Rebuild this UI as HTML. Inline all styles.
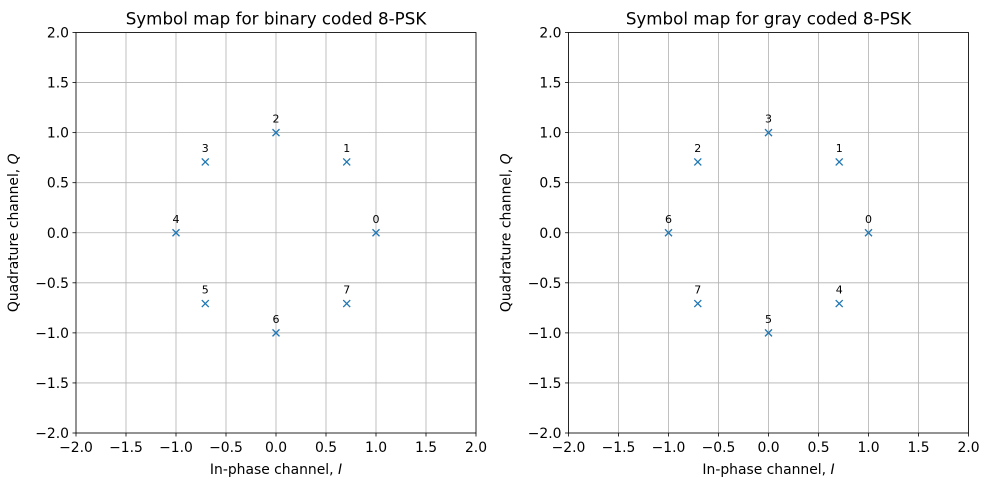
<!DOCTYPE html>
<html><head><meta charset="utf-8"><style>
body{margin:0;background:#fff;}
svg{display:block;font-family:"DejaVu Sans","Liberation Sans",sans-serif;}
</style></head><body>
<svg id="fig" width="989" height="490"></svg>
<script>
const ticks=[-2,-1.5,-1,-0.5,0,0.5,1,1.5,2];
const tickLabels=["−2.0","−1.5","−1.0","−0.5","0.0","0.5","1.0","1.5","2.0"];
const r=Math.SQRT1_2;
const pointsI=[1,r,0,-r,-1,-r,0,r];
const pointsQ=[0,r,1,r,0,-r,-1,-r];
const binaryLabels=["0","1","2","3","4","5","6","7"];
const grayLabels=["0","1","3","2","6","7","5","4"];
const titles=["Symbol map for binary coded 8-PSK","Symbol map for gray coded 8-PSK"];
const NS="http://www.w3.org/2000/svg";
const svg=document.getElementById('fig');
function mk(t,a,p){const e=document.createElementNS(NS,t);for(const k in a)e.setAttribute(k,a[k]);(p||svg).appendChild(e);return e;}
const panels=[{x0:76,labels:binaryLabels,name:'binary'},{x0:568.5,labels:grayLabels,name:'gray'}];
const plotTop=32.5,W=400,H=400.5;
panels.forEach((pn,pi)=>{
  const g=mk('g',{});
  
  
  const sx=v=>pn.x0+(v+2)/4*W, sy=v=>plotTop+(2-v)/4*H;
  ticks.forEach((t,i)=>{
    const gx=mk('line',{x1:sx(t),x2:sx(t),y1:plotTop,y2:plotTop+H,stroke:'#b0b0b0','stroke-width':0.8},g);
    
    
    const gy=mk('line',{x1:pn.x0,x2:pn.x0+W,y1:sy(t),y2:sy(t),stroke:'#b0b0b0','stroke-width':0.8},g);
    
    
    mk('line',{x1:sx(t),x2:sx(t),y1:plotTop+H,y2:plotTop+H+3.5,stroke:'#000','stroke-width':0.8},g);
    mk('line',{x1:pn.x0-3.5,x2:pn.x0,y1:sy(t),y2:sy(t),stroke:'#000','stroke-width':0.8},g);
    const xl=mk('text',{x:sx(t),y:plotTop+H+19,'font-size':13.9,'text-anchor':'middle'},g);xl.textContent=tickLabels[i];
    
    
    const yl=mk('text',{x:pn.x0-7,y:sy(t)+5,'font-size':13.9,'text-anchor':'end'},g);yl.textContent=tickLabels[i];
    
    
  });
  const fr=mk('rect',{x:pn.x0,y:plotTop,width:W,height:H,fill:'none',stroke:'#000','stroke-width':0.8},g);
  
  
  pointsI.forEach((v,i)=>{
    const x=sx(v),y=sy(pointsQ[i]),d=3.5;
    const m=mk('path',{d:`M${x-d},${y-d}L${x+d},${y+d}M${x-d},${y+d}L${x+d},${y-d}`,stroke:'#1f77b4','stroke-width':1.3},g);
    
    
    const tl=mk('text',{x:x,y:y-10,'font-size':11,'text-anchor':'middle'},g);tl.textContent=pn.labels[i];
    
    
  });
  const ti=mk('text',{x:pn.x0+W/2,y:plotTop-8,'font-size':16.7,'text-anchor':'middle'},g);ti.textContent=titles[pi];
  
  
  const xt=mk('text',{x:pn.x0+W/2,y:plotTop+H+41,'font-size':13.9,'text-anchor':'middle'},g);
  xt.innerHTML='In-phase channel, <tspan font-style="italic">I</tspan>';
  
  
  const cy=plotTop+H/2, cx=pn.x0-58;
  const yt=mk('text',{x:cx,y:cy,'font-size':13.9,'text-anchor':'middle',transform:`rotate(-90 ${cx} ${cy})`},g);
  yt.innerHTML='Quadrature channel, <tspan font-style="italic">Q</tspan>';
  
  
});
</script>
</body></html>
